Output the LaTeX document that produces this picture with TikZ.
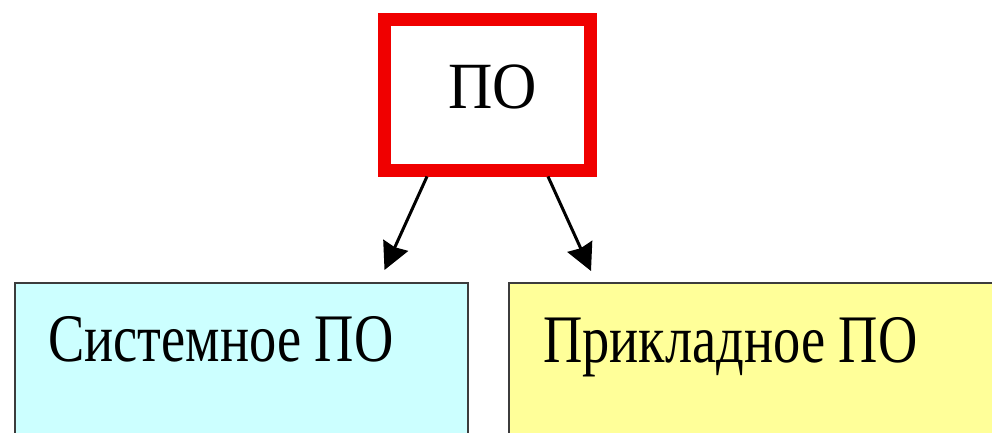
\documentclass[tikz,border=0pt]{standalone}
\usepackage{fontspec}
\setmainfont{Liberation Serif}
\newfontfamily\narrowserif[FakeStretch=0.8]{Liberation Serif}
\newfontfamily\topserif[FakeStretch=0.93]{Liberation Serif}
\usetikzlibrary{arrows.meta,positioning}
\definecolor{poRed}{RGB}{240,0,0}
\definecolor{sysCyan}{RGB}{204,255,255}
\definecolor{appYellow}{RGB}{255,255,153}
\definecolor{boxEdge}{RGB}{60,60,60}

\begin{document}
\begin{tikzpicture}[x=1pt,y=-1pt,>={Stealth[length=27pt,width=27pt,inset=2pt]},
  top/.style={draw=poRed,line width=13pt,fill=white,minimum width=206pt,minimum height=150pt,font=\topserif\fontsize{66}{66}\selectfont,text depth=16pt},
  kind/.style={draw=boxEdge,line width=1.5pt,anchor=north west,minimum height=200pt},
  caption/.style={font=\narrowserif\fontsize{68}{68}\selectfont,inner sep=0pt}]
\clip (0,0) rectangle (992,433);
\fill[white] (0,0) rectangle (992,433);
\node[top](po) at (487,95) {\hspace*{12pt}ПО};
\node[kind,fill=sysCyan,minimum width=453pt](sys) at (14,282) {};
\node[kind,fill=appYellow,minimum width=500pt](app) at (508,282) {};
\node[caption,below right=34pt and 34pt of sys.north west](syst) {Системное ПО};
\node[caption,below right=35pt and 35pt of app.north west](appt) {Прикладное ПО};

\draw[->,line width=3pt] ([xshift=49.5pt]po.south west) -- ([xshift=-84pt,yshift=12pt]sys.north east);
\draw[->,line width=3pt] ([xshift=-48.5pt]po.south east) -- ([xshift=83pt,yshift=11pt]app.north west);
\end{tikzpicture}
\end{document}
